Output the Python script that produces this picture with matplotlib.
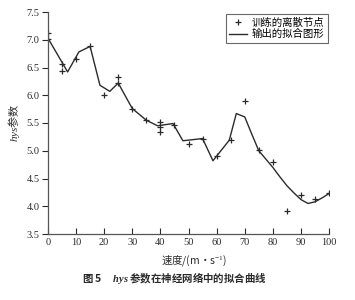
import matplotlib
matplotlib.use("Agg")
import matplotlib.pyplot as plt

# discrete training nodes
node_speed = [0, 0, 5, 5, 10, 15, 20, 25, 25, 30, 35, 40, 40, 40, 45, 50, 55, 60, 65,
              70, 75, 80, 85, 90, 95, 100]
node_hys = [7.13, 7.02, 6.57, 6.44, 6.65, 6.88, 6.0, 6.32, 6.22, 5.76, 5.55, 5.52, 5.43,
            5.33, 5.47, 5.12, 5.21, 4.91, 5.19, 5.9, 5.01, 4.8, 3.91, 4.21, 4.13, 4.23]

# fitted curve output
fit_speed = [0, 7, 11, 15, 18.5, 22, 25, 30, 35, 39, 44.5, 48, 55, 58.7, 64.5, 67, 70,
             72.5, 75, 77.5, 80, 82.5, 85, 87.5, 90, 92.5, 95, 97.5, 100]
fit_hys = [7.03, 6.42, 6.78, 6.88, 6.18, 6.07, 6.22, 5.76, 5.55, 5.45, 5.49, 5.18, 5.22,
           4.82, 5.19, 5.67, 5.61, 5.3, 5.0, 4.85, 4.7, 4.53, 4.37, 4.24, 4.12, 4.05,
           4.08, 4.15, 4.23]

xticks = [0, 10, 20, 30, 40, 50, 60, 70, 80, 90, 100]
yticks = [3.5, 4.0, 4.5, 5.0, 5.5, 6.0, 6.5, 7.0, 7.5]

plt.rcParams["mathtext.fontset"] = "custom"
plt.rcParams["mathtext.rm"] = "Liberation Serif"
plt.rcParams["mathtext.it"] = "Liberation Serif:italic"
plt.rcParams["mathtext.bf"] = "Liberation Serif:bold"
plt.rcParams["mathtext.bfit"] = "Liberation Serif:italic:bold"

serif = ["Liberation Serif", "DejaVu Serif"]
cjk = ["Noto Sans CJK SC", "DejaVu Sans"]
ink = "#2b2b2b"

fig = plt.figure(figsize=(3.55, 3.0), dpi=100)
ax = fig.add_axes([0.135, 0.22, 0.792, 0.74])

ax.plot(fit_speed, fit_hys, color=ink, linewidth=1.0, label="输出的拟合图形")
ax.plot(node_speed, node_hys, linestyle="none", marker="+", markersize=5,
        markeredgewidth=0.9, color=ink, label="训练的离散节点")

ax.set_xlim(0, 100)
ax.set_ylim(3.5, 7.5)
ax.set_xticks(xticks)
ax.set_yticks(yticks)
ax.set_xticklabels([str(t) for t in xticks], family=serif, fontsize=7.5, color=ink)
ax.set_yticklabels([f"{t:.1f}" for t in yticks], family=serif, fontsize=7.5, color=ink)
ax.tick_params(axis="x", direction="in", length=4, width=0.8, colors=ink, pad=3)
ax.tick_params(axis="y", direction="out", length=4, width=0.8, colors=ink, pad=2)
for side in ["top", "right"]:
    ax.spines[side].set_visible(False)
for side in ["left", "bottom"]:
    ax.spines[side].set_color("#555555")
    ax.spines[side].set_linewidth(0.9)

ax.set_xlabel("速度/(m·s$^{-1}$)", family=cjk, fontsize=7.5, color=ink, labelpad=2)
ax.xaxis.set_label_coords(0.52, -0.085)
ax.set_ylabel("$\\it{hys}$参数", family=cjk, fontsize=8, color=ink, labelpad=3)

handles, labels = ax.get_legend_handles_labels()
leg = ax.legend(handles[::-1], labels[::-1], loc="upper right",
                bbox_to_anchor=(1.0, 1.0), prop={"family": cjk, "size": 7.5},
                frameon=True, fancybox=False, edgecolor="#444444",
                handlelength=1.7, handletextpad=0.4, borderpad=0.35,
                labelspacing=0.15, borderaxespad=0.15)
leg.get_frame().set_linewidth(0.8)

fig.text(0.49, 0.075, "图 5     $\\mathbfit{hys}$ 参数在神经网络中的拟合曲线",
         ha="center", va="center", family=cjk, fontsize=7.5, fontweight="bold",
         color=ink)

fig.savefig("out.png", dpi=100)
